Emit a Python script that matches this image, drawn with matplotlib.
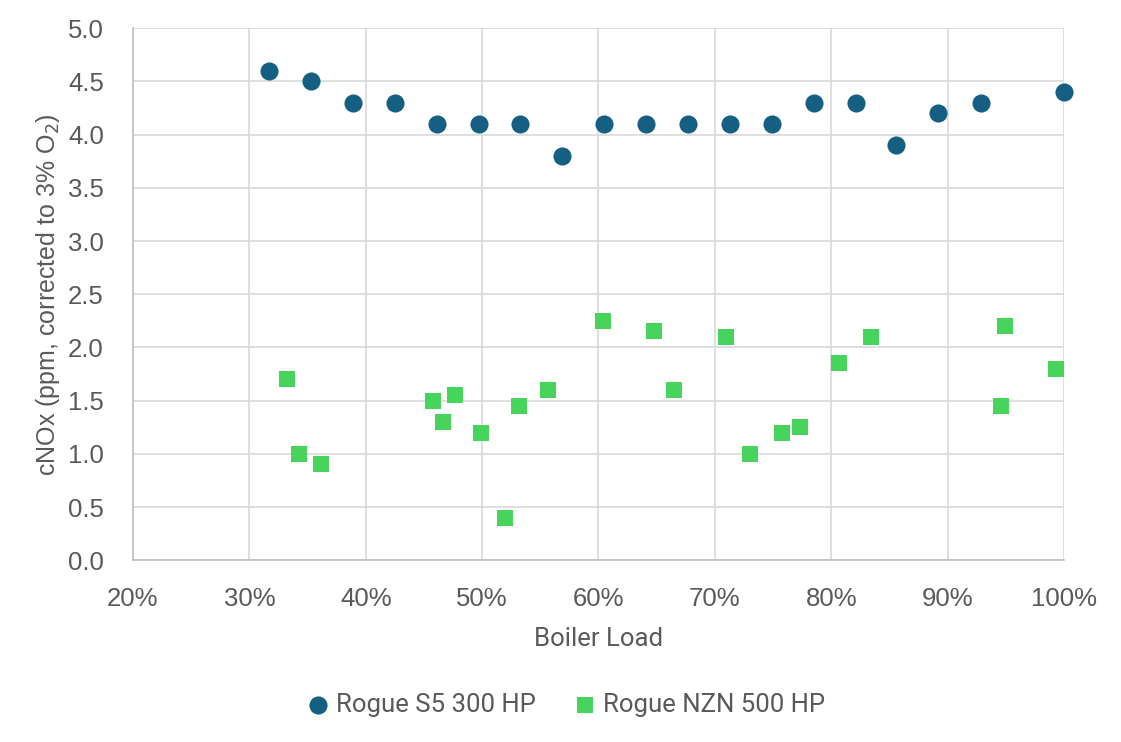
import matplotlib
matplotlib.use("Agg")
import matplotlib.pyplot as plt
from matplotlib.ticker import PercentFormatter

# data (boiler load in %, cNOx in ppm)
s5_load = [31.7, 35.3, 38.9, 42.5, 46.1, 49.7, 53.3, 56.9, 60.5, 64.1,
           67.7, 71.3, 74.9, 78.5, 82.1, 85.6, 89.2, 92.9, 100.0]
s5_nox = [4.6, 4.5, 4.3, 4.3, 4.1, 4.1, 4.1, 3.8, 4.1, 4.1,
          4.1, 4.1, 4.1, 4.3, 4.3, 3.9, 4.2, 4.3, 4.4]

nzn_load = [33.2, 34.3, 36.2, 45.8, 46.6, 47.7, 49.9, 52.0, 53.2, 55.7,
            60.4, 64.8, 66.5, 71.0, 73.0, 75.8, 77.3, 80.7, 83.4, 94.6,
            94.9, 99.3]
nzn_nox = [1.7, 1.0, 0.9, 1.5, 1.3, 1.55, 1.2, 0.4, 1.45, 1.6,
           2.25, 2.15, 1.6, 2.1, 1.0, 1.2, 1.25, 1.85, 2.1, 1.45,
           2.2, 1.8]

blue = '#156082'
green = '#47D45A'
text_col = '#595959'

fig = plt.figure(figsize=(11.21, 7.42), dpi=100)
ax = fig.add_axes([0.1186, 0.245, 0.8305, 0.717])

ax.scatter(s5_load, s5_nox, s=170, marker='o', color=blue,
           label='Rogue S5 300 HP', zorder=3, linewidths=0, clip_on=False)
ax.scatter(nzn_load, nzn_nox, s=140, marker='s', color=green,
           label='Rogue NZN 500 HP', zorder=3, linewidths=0, clip_on=False)

ax.set_xlim(20, 100)
ax.set_ylim(0, 5)
ax.set_xticks(range(20, 101, 10))
ax.set_yticks([i * 0.5 for i in range(11)])
ax.xaxis.set_major_formatter(PercentFormatter(decimals=0))
ax.yaxis.set_major_formatter(plt.FuncFormatter(lambda v, p: f'{v:.1f}'))

ax.grid(True, color='#d9d9d9', linewidth=1.2, zorder=0)
ax.set_axisbelow(True)
for side in ['top', 'right']:
    ax.spines[side].set_visible(False)
for side in ['left', 'bottom']:
    ax.spines[side].set_color('#bfbfbf')
    ax.spines[side].set_linewidth(1.2)

ax.tick_params(length=0, labelsize=18.5, labelcolor=text_col)
ax.tick_params(axis='x', pad=19)
ax.tick_params(axis='y', pad=21)
for lab in ax.get_xticklabels() + ax.get_yticklabels():
    lab.set_family('Liberation Sans')

ax.set_xlabel('Boiler Load', fontsize=18.5, color=text_col,
              family='Roboto', labelpad=12)
ax.set_ylabel('cNOx (ppm, corrected to 3% O$_2$)', fontsize=18,
              color=text_col, family='Liberation Sans', labelpad=4)

leg = fig.legend(loc='center', bbox_to_anchor=(0.503, 0.05), ncol=2,
                 frameon=False, fontsize=18.5, handletextpad=0.1,
                 columnspacing=1.3, markerscale=1.0, handlelength=1.2)
for t in leg.get_texts():
    t.set_color(text_col)
    t.set_family('Roboto')

fig.savefig('out.png', dpi=100)
